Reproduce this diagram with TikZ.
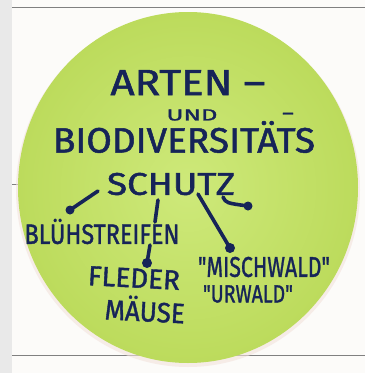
\documentclass[tikz,border=0pt]{standalone}
\usepackage{fontspec}
\setmainfont{Fira Sans}
\newfontfamily\penfont{Fira Sans}[FakeBold=1.4]
\usepackage{graphicx}

\definecolor{ink}{RGB}{22,36,88}
\definecolor{notecore}{RGB}{206,233,122}
\definecolor{noteedge}{RGB}{188,219,92}
\definecolor{strip}{RGB}{233,233,233}
\definecolor{rule}{RGB}{128,128,128}
\definecolor{paper}{RGB}{252,251,249}
\definecolor{shadowpink}{RGB}{242,226,220}

% word scaled to a given width and height (pt)
\newcommand{\hw}[3]{\resizebox{#1pt}{#2pt}{#3}}

\tikzset{
  handtext/.style={inner sep=0pt, text=ink, font=\penfont},
  pen/.style={draw=ink, line width=3.6pt, line cap=round, line join=round},
  penend/.style={circle, fill=ink, inner sep=0pt, minimum size=9pt},
  ruleline/.style={draw=rule, line width=1pt},
}

\begin{document}
\begin{tikzpicture}[x=1pt,y=-1pt]
  % paper, margin strip and ruled lines
  \fill[paper] (0,0) rectangle (365,373);
  \fill[strip] (0,0) rectangle (12,373);
  \useasboundingbox (0,0) rectangle (365,373);
  \draw[ruleline] (12,7) -- (365,7);
  \draw[ruleline] (12,355) -- (365,355);
  \draw[ruleline] (12,184) -- (24,184);

  % round note
  \fill[shadowpink, opacity=0.6] (188,190) ellipse [x radius=172pt, y radius=177pt];
  \shade[inner color=notecore, outer color=noteedge]
    (188,187.5) ellipse [x radius=170pt, y radius=175.5pt];

  % title
  \node[handtext] (arten) at (188,82.5) {\hw{155}{25}{ARTEN –}};
  \node[handtext] (und) at (192,115) {\hw{51}{11}{UND}};
  \node[handtext, anchor=base, font=\penfont\fontsize{22}{22}\selectfont] (hyph) at (288,120.5) {–};
  \node[handtext] (bio) at (184,137) {\hw{262}{31.5}{BIODIVERSITÄTS}};
  \node[handtext] (schutz) at (171,184) {\hw{128}{22}{SCHUTZ}};

  % branches
  \node[handtext] (blueh) at (102,231.5) {\hw{155}{25}{BLÜHSTREIFEN}};
  \node[handtext, rotate=-3] (fleder) at (134,278) {\hw{92}{19}{FLEDER}};
  \node[handtext, rotate=-3] (maeuse) at (145,309) {\hw{80}{25}{MÄUSE}};
  \node[handtext] (misch) at (264,267) {\hw{132}{20}{"MISCHWALD"}};
  \node[handtext] (urwald) at (248,294) {\hw{90}{17}{"URWALD"}};

  % connector ends
  \coordinate (sl) at (98,191);
  \node[penend] (dl) at (70,210) {};
  \coordinate (sm) at (158,200);
  \coordinate (em) at (155,222);
  \coordinate (sr) at (198,194);
  \node[penend, minimum size=10pt] (dr) at (230,248) {};
  \coordinate (sx) at (223,197);
  \node[penend] (dx) at (248,206) {};
  \coordinate (sb) at (150,245);
  \node[penend, minimum size=10pt] (db) at (147,263) {};

  \draw[pen] (sl) -- (dl.center);
  \draw[pen] (sm) -- (em);
  \draw[pen] (sr) -- (dr.center);
  \draw[pen] (sx) .. controls (226,203) .. (dx.center);
  \draw[pen] (sb) -- (db.center);
\end{tikzpicture}
\end{document}
